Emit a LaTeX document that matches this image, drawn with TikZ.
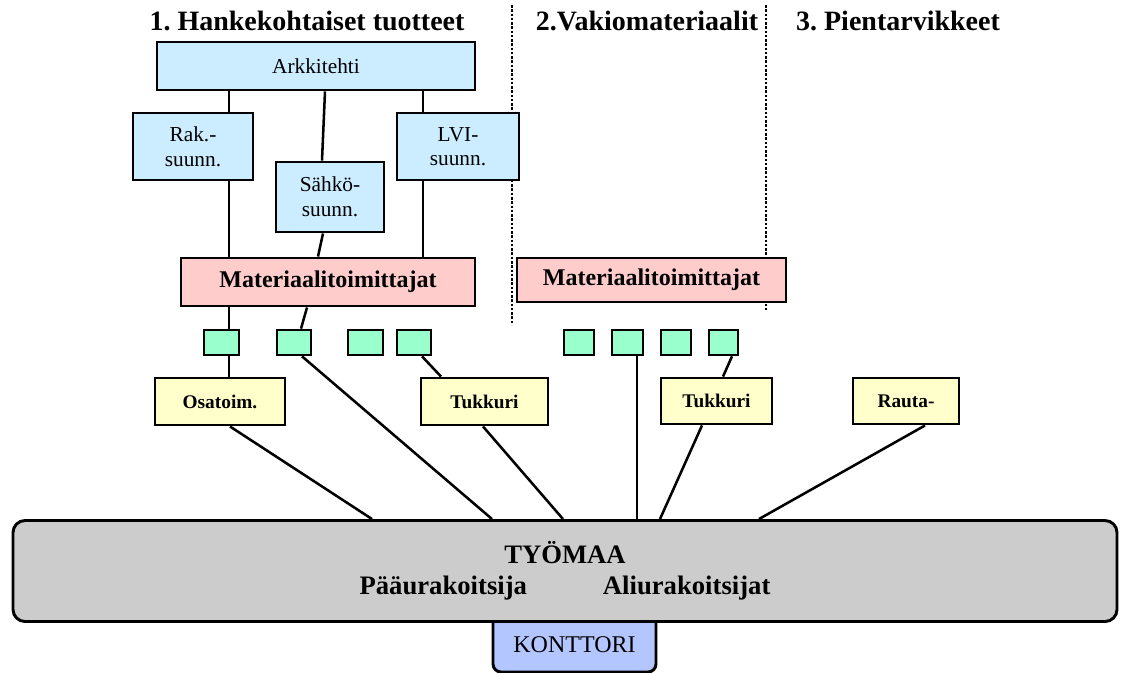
\documentclass[tikz,border=0pt]{standalone}
\usepackage{fontspec}
\setmainfont{Liberation Serif}
\frenchspacing
\definecolor{planblue}{HTML}{CCECFF}
\definecolor{supplypink}{HTML}{FFCCCC}
\definecolor{itemgreen}{HTML}{99FFCC}
\definecolor{tradeyellow}{HTML}{FFFFCC}
\definecolor{sitegray}{HTML}{CCCCCC}
\definecolor{officeblue}{HTML}{B3C6FF}
\begin{document}
\begin{tikzpicture}[x=0.75pt,y=-0.75pt,
  wh/.style 2 args={minimum width={#1*0.75pt},minimum height={#2*0.75pt}},
  box/.style={draw,line width=2.2pt,inner sep=0pt,align=center},
  plan/.style={box,fill=planblue,font=\fontsize{16}{18.5}\selectfont},
  supplier/.style={box,fill=supplypink,font=\fontsize{18}{21}\selectfont\bfseries},
  item/.style={box,fill=itemgreen,line width=2pt},
  trade/.style={box,fill=tradeyellow,font=\fontsize{14.5}{17}\selectfont\bfseries},
  title/.style={anchor=base,font=\fontsize{21}{24}\selectfont\bfseries},
  link/.style={line width=1.9pt},
  divider/.style={line width=1.6pt,dash pattern=on 1.9pt off 1.3pt}
]
\useasboundingbox (0,0) rectangle (1125,672);

% column headings and dividers
\node[title] (h1) at (307,30) {1. Hankekohtaiset tuotteet};
\node[title] (h2) at (647,30) {2.Vakiomateriaalit};
\node[title] (h3) at (898,30) {3. Pientarvikkeet};
\coordinate (d1a) at (512,5);  \coordinate (d1b) at (512,325);
\coordinate (d2a) at (766,5);  \coordinate (d2b) at (766,312);
\draw[divider] (d1a) -- (d1b);
\draw[divider] (d2a) -- (d2b);

% designers
\node[plan,wh={318}{48}] (ark) at (316,66) {Arkkitehti};
\node[plan,wh={120}{67}] (rak) at (193,146.5) {Rak.-\\suunn.};
\node[plan,wh={122}{67}] (lvi) at (458,146.5) {LVI-\\suunn.};
\node[plan,wh={108}{70}] (sah) at (330,197) {Sähkö-\\suunn.};

% material suppliers
\node[supplier,wh={294}{48}] (mat1) at (328,282) {Materiaalitoimittajat};
\node[supplier,wh={269}{44}] (mat2) at (651.5,280) {Materiaalitoimittajat};

% small product boxes
\node[item,wh={35}{25}] (g1) at (221.5,342.5) {};
\node[item,wh={34}{25}] (g2) at (294,342.5) {};
\node[item,wh={35}{25}] (g3) at (365.5,342.5) {};
\node[item,wh={34}{25}] (g4) at (414,342.5) {};
\node[item,wh={30}{25}] (g5) at (579,342.5) {};
\node[item,wh={31}{25}] (g6) at (627.5,342.5) {};
\node[item,wh={30}{25}] (g7) at (676,342.5) {};
\node[item,wh={29}{25}] (g8) at (723.5,342.5) {};

% traders
\node[trade,wh={130}{47}] (osa) at (220,401.5) {Osatoim.};
\node[trade,wh={127}{47}] (tuk1) at (484.5,401.5) {Tukkuri};
\node[trade,wh={111}{46}] (tuk2) at (716.5,401) {Tukkuri};
\node[trade,wh={106}{46}] (rau) at (906,401) {Rauta-};

% office and site
\node[box,fill=officeblue,rounded corners=6pt,minimum width={163*0.75pt},
      text height={47*0.75pt},text depth={20*0.75pt},
      font=\fontsize{18}{21}\selectfont] (kon) at (574.5,638.5) {KONTTORI};
\node[box,fill=sitegray,rounded corners=9pt,wh={1104}{101},
      font=\fontsize{20}{23.25}\selectfont\bfseries] (tyo) at (565,571)
      {TYÖMAA\\Pääurakoitsija\hspace{57pt}Aliurakoitsijat};

% design chain
\draw[link] (ark.south -| 229,0) -- (rak.north -| 229,0);
\draw[link] (ark.south -| 325,0) -- (sah.north -| 322,0);
\draw[link] (ark.south -| 423,0) -- (lvi.north -| 423,0);
\draw[link] (rak.south -| 229,0) -- (mat1.north -| 229,0);
\draw[link] (sah.south -| 323,0) -- (mat1.north -| 318,0);
\draw[link] (lvi.south -| 423,0) -- (mat1.north -| 423,0);

% supply chain
\draw[link] (mat1.south -| 229,0) -- (g1.north -| 229,0);
\draw[link] (mat1.south -| 307,0) -- (g2.north -| 301,0);
\draw[link] (g1.south -| 229,0) -- (osa.north -| 229,0);
\draw[link] (g2.south -| 302,0) -- (tyo.north -| 492,0);
\draw[link] (g4.south -| 422,0) -- (tuk1.north -| 441,0);
\draw[link] (osa.south -| 230,0) -- (tyo.north -| 372,0);
\draw[link] (tuk1.south -| 483,0) -- (tyo.north -| 563,0);
\draw[link] (g6.south -| 637,0) -- (tyo.north -| 637,0);
\draw[link] (g8.south -| 732,0) -- (tuk2.north -| 723,0);
\draw[link] (tuk2.south -| 702,0) -- (tyo.north -| 660,0);
\draw[link] (rau.south -| 925,0) -- (tyo.north -| 759,0);
\end{tikzpicture}
\end{document}
